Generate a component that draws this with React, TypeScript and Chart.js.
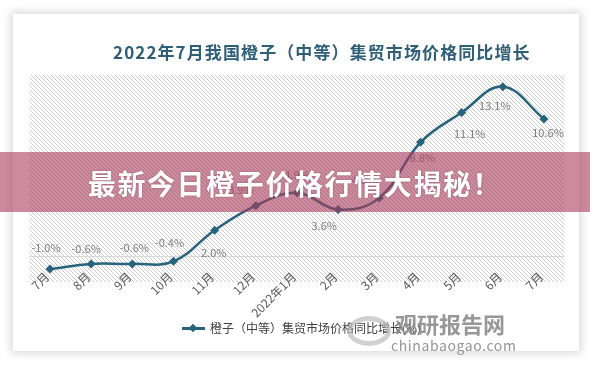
import React, { useEffect, useRef } from "react";
import { Chart, registerables } from "chart.js";

Chart.register(...registerables);

const categories = ["7月", "8月", "9月", "10月", "11月", "12月", "2022年1月", "2月", "3月", "4月", "5月", "6月", "7月"];
const growthValues = [-1.0, -0.6, -0.6, -0.4, 2.0, 3.9, 4.9, 3.6, 4.5, 8.8, 11.1, 13.1, 10.6];
const valueLabels = ["-1.0%", "-0.6%", "-0.6%", "-0.4%", "2.0%", "3.9%", "4.9%", "3.6%", "4.5%", "8.8%", "11.1%", "13.1%", "10.6%"];
const labelOffsets = [[-4, -21], [-5, -15], [2, -16], [-4, -18], [-1, 23], [-15, -16], [0, -18], [-14, 16], [-15, -18], [2, 16], [8, 21], [-8, 19], [4, 14]];
const seriesName = "橙子（中等）集贸市场价格同比增长(%)";
const titleText = "2022年7月我国橙子（中等）集贸市场价格同比增长";
const bannerText = "最新今日橙子价格行情大揭秘！";
const yMin = -2;
const yMax = 14;

const LINE = "#27637c";
const FONT = "'Noto Sans CJK SC', 'Noto Sans', sans-serif";

const decorPlugin = {
  id: "decor",
  beforeDatasetsDraw(chart: any) {
    const { ctx, chartArea: a, scales } = chart;
    const tile = document.createElement("canvas");
    tile.width = 4;
    tile.height = 4;
    const t = tile.getContext("2d")!;
    t.strokeStyle = "#cdcdcd";
    t.lineWidth = 1;
    t.beginPath();
    t.moveTo(0, 0); t.lineTo(4, 4);
    t.moveTo(-1, 3); t.lineTo(1, 5);
    t.moveTo(3, -1); t.lineTo(5, 1);
    t.stroke();
    ctx.save();
    const pat = ctx.createPattern(tile, "repeat");
    if (pat) ctx.fillStyle = pat;
    ctx.fillRect(a.left, a.top, a.right - a.left, a.bottom - a.top);
    const y0 = Math.round(scales.y.getPixelForValue(0)) + 0.5;
    ctx.strokeStyle = "#d9d9d9";
    ctx.lineWidth = 1;
    ctx.beginPath();
    ctx.moveTo(a.left, y0);
    ctx.lineTo(a.right, y0);
    ctx.stroke();
    ctx.font = `12px ${FONT}`;
    ctx.fillStyle = "#595959";
    ctx.textAlign = "right";
    ctx.textBaseline = "middle";
    categories.forEach((c, i) => {
      const x = scales.x.getPixelForValue(i);
      ctx.save();
      ctx.translate(x - 3, y0 + 18);
      ctx.rotate(-Math.PI / 4);
      ctx.fillText(c, 0, 0);
      ctx.restore();
    });
    ctx.restore();
  },
  afterDatasetsDraw(chart: any) {
    const { ctx } = chart;
    const meta = chart.getDatasetMeta(0);
    ctx.save();
    ctx.font = `11px ${FONT}`;
    ctx.fillStyle = "#7f7f7f";
    ctx.textAlign = "center";
    ctx.textBaseline = "middle";
    meta.data.forEach((pt: any, i: number) => {
      const [dx, dy] = labelOffsets[i];
      ctx.fillText(valueLabels[i], pt.x + dx, pt.y + dy);
    });
    ctx.restore();
  },
};

function LineChart() {
  const ref = useRef<HTMLCanvasElement | null>(null);
  useEffect(() => {
    if (!ref.current) return;
    const chart = new Chart(ref.current, {
      type: "line",
      data: {
        labels: categories,
        datasets: [
          {
            label: seriesName,
            data: growthValues,
            borderColor: LINE,
            backgroundColor: LINE,
            borderWidth: 2.5,
            tension: 0.4,
            pointStyle: "rectRot",
            pointRadius: 4.5,
            pointBorderWidth: 0,
            pointBackgroundColor: LINE,
            clip: false as any,
          },
        ],
      },
      options: {
        responsive: false,
        animation: false,
        devicePixelRatio: 1,
        layout: { padding: { left: 29.4, right: 25.4, top: 75, bottom: 83 } },
        plugins: { legend: { display: false }, tooltip: { enabled: false }, title: { display: false } },
        scales: {
          x: { display: false, offset: true },
          y: { display: false, min: yMin, max: yMax },
        },
      },
      plugins: [decorPlugin],
    });
    return () => chart.destroy();
  }, []);
  return <canvas ref={ref} width={590} height={365} style={{ position: "absolute", left: 0, top: 0, width: 590, height: 365 }} />;
}

export default function App() {
  return (
    <div style={{ position: "absolute", left: 0, top: 0, width: 590, height: 365, overflow: "hidden", background: "#fff", fontFamily: FONT }}>
      <div style={{ position: "absolute", left: 13, top: 14, width: 566, height: 337, background: "#fff", boxShadow: "0 0 9px 2px rgba(0,0,0,0.16)" }} />
      <LineChart />
      <div style={{ position: "absolute", left: 113, top: 40, whiteSpace: "nowrap", fontSize: 17, fontWeight: 700, color: "#2f5f78", letterSpacing: 1.1, lineHeight: "24px" }}>{titleText}</div>
      <div style={{ position: "absolute", left: 182, top: 327, width: 23, height: 2.5, background: LINE }} />
      <div style={{ position: "absolute", left: 190, top: 325, width: 6, height: 6, background: LINE, transform: "rotate(45deg)" }} />
      <div style={{ position: "absolute", left: 210, top: 319, whiteSpace: "nowrap", fontSize: 12, color: "#404040", lineHeight: "18px" }}>{seriesName}</div>
      <div style={{ position: "absolute", left: 347, top: 316, width: 34, height: 20, border: "5px solid rgba(190,190,190,0.7)", borderRadius: "50%" }} />
      <div style={{ position: "absolute", left: 395, top: 309, whiteSpace: "nowrap", fontSize: 22, fontWeight: 700, color: "rgba(125,125,125,0.8)", lineHeight: "28px" }}>观研报告网</div>
      <div style={{ position: "absolute", left: 391, top: 336, whiteSpace: "nowrap", fontSize: 14, color: "rgba(130,130,130,0.85)", letterSpacing: 0.6, lineHeight: "18px" }}>chinabaogao.com</div>
      <div style={{ position: "absolute", left: 0, top: 152, width: 590, height: 60, background: "rgba(170,60,95,0.6)" }} />
      <div style={{ position: "absolute", left: 0, top: 153, width: 590, height: 60, textAlign: "center", fontSize: 28, fontWeight: 700, color: "#fff", lineHeight: "60px", letterSpacing: 1.6, textShadow: "0 0 2px rgba(80,20,40,0.4)" }}>{bannerText}</div>
    </div>
  );
}
